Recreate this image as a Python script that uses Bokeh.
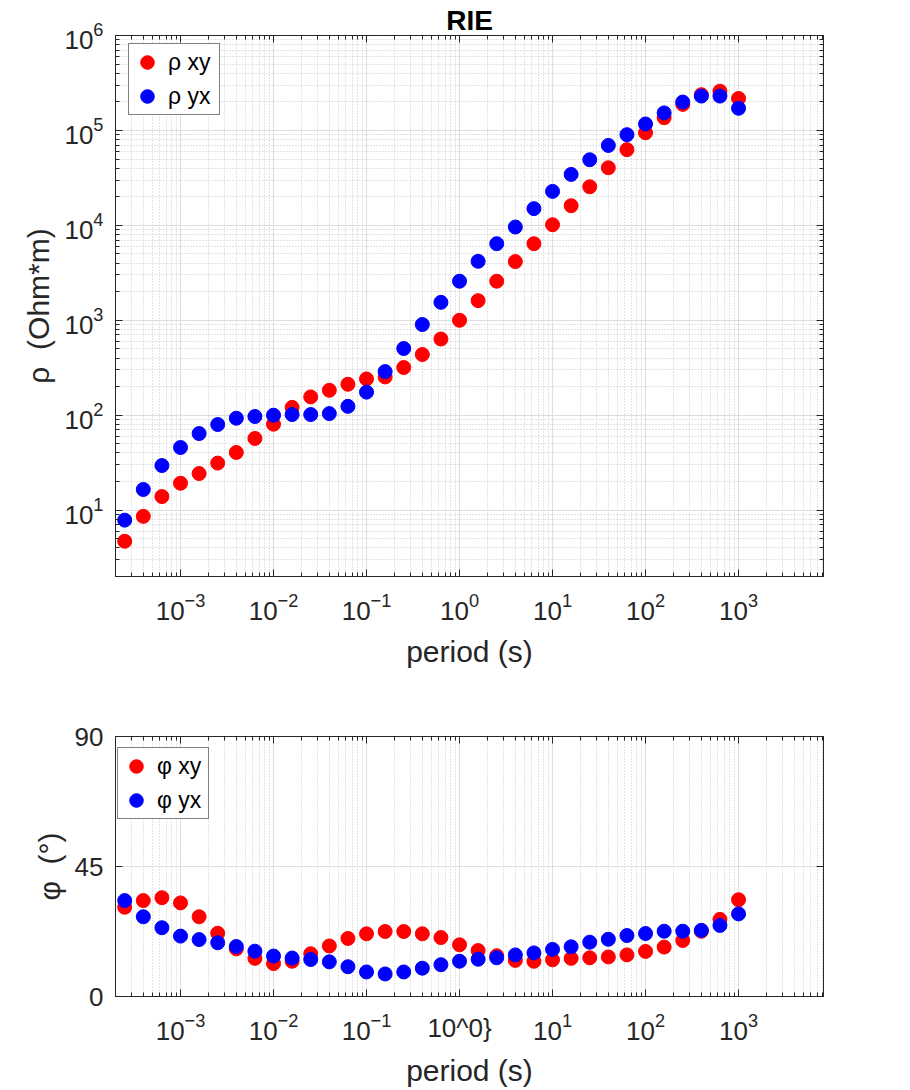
from bokeh.plotting import figure
from bokeh.models import (Range1d, FixedTicker, LogAxis, LinearAxis, Legend, LegendItem,
                          CustomJSTickFormatter)
from bokeh.layouts import column
from bokeh.embed import file_html
from bokeh.resources import INLINE

# Sounding periods (s)
period = [2.512e-4, 3.981e-4, 6.310e-4, 1.0e-3, 1.585e-3, 2.512e-3, 3.981e-3, 6.310e-3,
          1.0e-2, 1.585e-2, 2.512e-2, 3.981e-2, 6.310e-2, 0.1, 0.1585, 0.2512, 0.3981,
          0.6310, 1.0, 1.585, 2.512, 3.981, 6.310, 10.0, 15.85, 25.12, 39.81, 63.10,
          100.0, 158.5, 251.2, 398.1, 631.0, 1000.0]

# Apparent resistivity (Ohm*m)
rho_xy = [4.7, 8.6, 13.9, 19.2, 24.3, 31.3, 40.5, 56.9, 80.4, 121, 156, 183, 212, 241,
          253, 318, 436, 635, 1000, 1610, 2580, 4150, 6410, 10160, 16100, 25500, 40400,
          62700, 94600, 136000, 188000, 238000, 259000, 217000]
rho_yx = [7.85, 16.5, 29.5, 45.7, 64.1, 79.8, 93, 96.9, 100, 101.6, 101.6, 104, 124, 175,
          288, 504, 902, 1545, 2580, 4180, 6410, 9600, 15000, 22800, 34400, 49100, 69500,
          90200, 117000, 153000, 199000, 230000, 230000, 171000]

# Impedance phase (degrees)
phi_xy = [30.9, 33.2, 34.2, 32.4, 27.6, 21.9, 16.5, 13.2, 11.4, 12.2, 14.8, 17.5, 20.1,
          21.7, 22.5, 22.5, 21.7, 20.4, 17.9, 15.9, 14.1, 12.5, 12.2, 12.7, 13.2, 13.4,
          13.7, 14.4, 15.6, 17.1, 19.4, 22.6, 26.7, 33.5]
phi_yx = [33.2, 27.6, 23.8, 20.9, 19.7, 18.6, 17.3, 15.7, 14.0, 13.3, 12.8, 12.0, 10.3,
          8.5, 7.8, 8.5, 9.8, 11.0, 12.2, 12.9, 13.4, 14.4, 15.1, 16.3, 17.2, 18.8, 19.8,
          21.1, 21.8, 22.6, 22.6, 22.9, 24.6, 28.6]

phase_ticks = [0, 45, 90]

FONT = "Liberation Sans"
INK = "#262626"
RED = "#ff0000"
BLUE = "#0000ff"
X_LO, X_HI = 2e-4, 8192
RHO_LO, RHO_HI = 2, 1e6


def log_ticker(lo, hi, e_lo, e_hi):
    major = [10.0 ** e for e in range(e_lo, e_hi + 1) if lo <= 10.0 ** e <= hi]
    minor = [m * 10.0 ** e for e in range(e_lo - 1, e_hi + 1) for m in range(2, 10)
             if lo <= m * 10.0 ** e <= hi]
    return FixedTicker(ticks=major, minor_ticks=minor)


def style_axis(ax, minor=True):
    ax.axis_line_color = INK
    ax.axis_line_width = 1
    ax.major_tick_line_color = INK
    ax.minor_tick_line_color = INK if minor else None
    ax.major_tick_in = 7
    ax.major_tick_out = 0
    ax.minor_tick_in = 4
    ax.minor_tick_out = 0
    ax.major_label_text_font = FONT
    ax.major_label_text_font_size = "26px"
    ax.major_label_text_color = INK
    ax.axis_label_text_font = FONT
    ax.axis_label_text_font_size = "30px"
    ax.axis_label_text_font_style = "normal"
    ax.axis_label_text_color = INK


def mirror_axis(p, cls, ticker, side, minor=True, title=None):
    # tick marks on the opposite side of the box; the top one also carries the title
    ax = cls(ticker=ticker, formatter=CustomJSTickFormatter(code="return ''"))
    style_axis(ax, minor)
    ax.major_label_text_font_size = "1px"
    ax.major_label_standoff = 0
    if title:
        ax.axis_label = title
        ax.axis_label_text_font_size = "28px"
        ax.axis_label_text_font_style = "bold"
        ax.axis_label_text_color = "#000000"
        ax.axis_label_standoff = 0
    p.add_layout(ax, side)


def style_grid(p, ticker_x, ticker_y, y_minor=True):
    for g in (p.xgrid[0], p.ygrid[0]):
        g.grid_line_color = "#dedede"
        g.grid_line_width = 1
    p.xgrid[0].ticker = ticker_x
    p.ygrid[0].ticker = ticker_y
    p.xgrid[0].minor_grid_line_color = "#c8c8c8"
    p.xgrid[0].minor_grid_line_dash = "1 2"
    if y_minor:
        p.ygrid[0].minor_grid_line_color = "#c8c8c8"
        p.ygrid[0].minor_grid_line_dash = "1 2"


def make_legend(p, items, loc):
    leg = Legend(items=items, location=loc)
    leg.label_text_font = FONT
    leg.label_text_font_size = "23px"
    leg.label_text_color = "#000000"
    leg.border_line_color = "#000000"
    leg.border_line_width = 1
    leg.background_fill_color = "white"
    leg.background_fill_alpha = 1
    leg.glyph_width = 34
    leg.glyph_height = 34
    leg.spacing = 0
    leg.padding = 1
    leg.label_standoff = 4
    leg.label_width = 50
    leg.margin = 0
    p.add_layout(leg)


x_ticker = log_ticker(X_LO, X_HI, -4, 4)

# ---- apparent resistivity ----
p1 = figure(width=910, height=700, x_axis_type="log", y_axis_type="log",
            x_range=Range1d(X_LO, X_HI), y_range=Range1d(RHO_LO, RHO_HI),
            output_backend="svg", toolbar_location=None,
            min_border_left=115, min_border_right=87, min_border_top=35, min_border_bottom=124)
p1.outline_line_color = INK
rho_ticker = log_ticker(RHO_LO, RHO_HI, 0, 6)

p1.below[0].ticker = x_ticker
p1.left[0].ticker = rho_ticker
style_axis(p1.below[0])
style_axis(p1.left[0])
p1.below[0].axis_label = "period (s)"
p1.left[0].axis_label = "ρ \u00a0(Ohm*m)"
p1.below[0].major_label_standoff = 16
p1.below[0].axis_label_standoff = 12
p1.left[0].major_label_standoff = 12
p1.left[0].axis_label_standoff = 6
mirror_axis(p1, LogAxis, x_ticker, "above", title="RIE")
mirror_axis(p1, LogAxis, rho_ticker, "right")
style_grid(p1, x_ticker, rho_ticker)

r_xy = p1.scatter(period, rho_xy, marker="circle", size=14, fill_color=RED, line_color=RED, line_width=1)
r_yx = p1.scatter(period, rho_yx, marker="circle", size=14, fill_color=BLUE, line_color=BLUE, line_width=1)
make_legend(p1, [LegendItem(label="ρ xy", renderers=[r_xy]),
                 LegendItem(label="ρ yx", renderers=[r_yx])], (13, 461))

# ---- phase ----
p2 = figure(width=910, height=390, x_axis_type="log",
            x_range=Range1d(X_LO, X_HI), y_range=Range1d(0, 90),
            output_backend="svg", toolbar_location=None,
            min_border_left=115, min_border_right=87, min_border_top=36, min_border_bottom=94)
p2.outline_line_color = INK
phase_ticker = FixedTicker(ticks=phase_ticks, minor_ticks=[])

p2.below[0].ticker = x_ticker
p2.left[0].ticker = phase_ticker
style_axis(p2.below[0])
style_axis(p2.left[0], minor=False)
p2.below[0].major_label_overrides = {1: "10^0}"}
p2.below[0].axis_label = "period (s)"
p2.left[0].axis_label = "φ \u00a0(°)"
p2.below[0].major_label_standoff = 16
p2.below[0].axis_label_standoff = 8
p2.left[0].major_label_standoff = 12
p2.left[0].axis_label_standoff = 6
mirror_axis(p2, LogAxis, x_ticker, "above")
mirror_axis(p2, LinearAxis, phase_ticker, "right", minor=False)
style_grid(p2, x_ticker, phase_ticker, y_minor=False)

f_xy = p2.scatter(period, phi_xy, marker="circle", size=14, fill_color=RED, line_color=RED, line_width=1)
f_yx = p2.scatter(period, phi_yx, marker="circle", size=14, fill_color=BLUE, line_color=BLUE, line_width=1)
make_legend(p2, [LegendItem(label="φ xy", renderers=[f_xy]),
                 LegendItem(label="φ yx", renderers=[f_yx])], (2, 177))

layout = column(p1, p2, spacing=0)
open("out.html", "w").write(file_html(layout, INLINE))
